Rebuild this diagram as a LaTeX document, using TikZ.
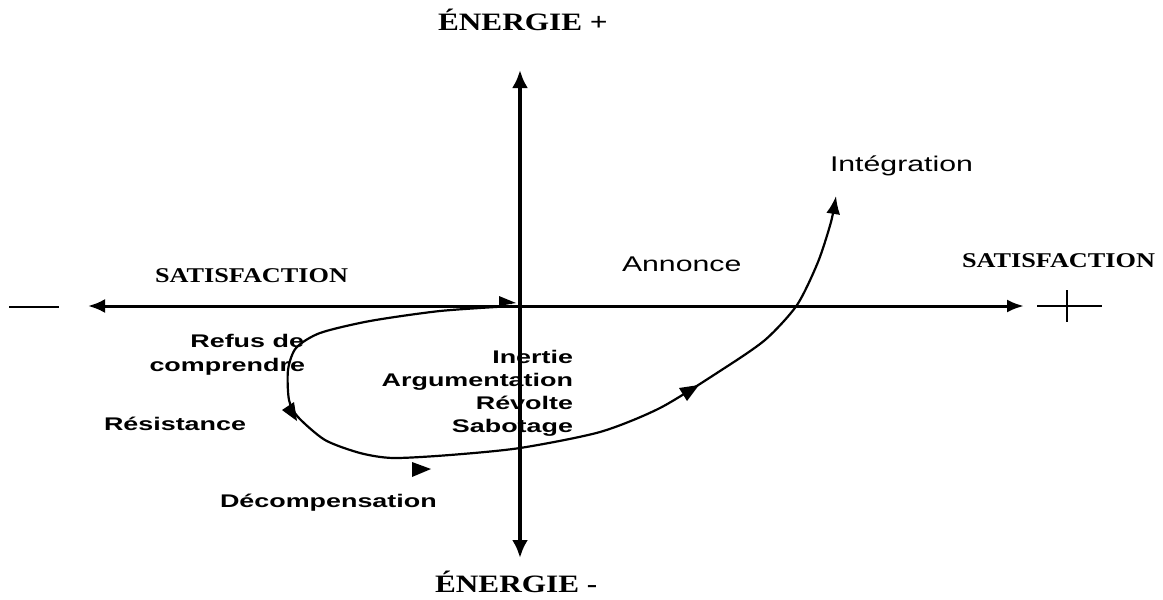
\documentclass[tikz,border=0pt]{standalone}
\usepackage{fontspec}
\setmainfont{Liberation Serif}
\newfontfamily\axisfont{Liberation Serif}[FakeStretch=1.25]
\newfontfamily\boldsans{Liberation Sans}[FakeStretch=1.47]
\newfontfamily\plainsans{Liberation Sans}[FakeStretch=1.42]
\usetikzlibrary{arrows.meta}
\begin{document}
\begin{tikzpicture}[x=1pt,y=-1pt,
  txt/.style={inner sep=0pt, outer sep=0pt, text=black},
  energie/.style={txt, font=\axisfont\bfseries\fontsize{25}{28}\selectfont},
  satis/.style={txt, font=\axisfont\bfseries\fontsize{21}{24}\selectfont},
  phase/.style={txt, font=\boldsans\bfseries\fontsize{18.3}{22}\selectfont},
  stage/.style={txt, font=\plainsans\fontsize{21.3}{24}\selectfont},
  axisline/.style={line width=3.5pt},
  thinline/.style={line width=2pt},
  curveline/.style={line width=2.2pt}
]
\useasboundingbox (0,0) rectangle (1163,600);

% axes
\coordinate (O) at (520,306);
\coordinate (xl) at (88,306);
\coordinate (xr) at (1024,306);
\coordinate (yt) at (520,70);
\coordinate (yb) at (520,558);
\draw[axisline, line width=3pt, {Latex[length=17pt,width=14pt]}-{Latex[length=17pt,width=13pt]}] (xl) -- (xr);
\draw[axisline, line width=4pt, {Latex[length=18pt,width=16pt]}-{Latex[length=18pt,width=16pt]}] (yb) -- (yt);

% minus and plus signs
\coordinate (m1) at (9,307);
\coordinate (m2) at (59,307);
\draw[thinline] (m1) -- (m2);
\coordinate (p1) at (1037,306);
\coordinate (p2) at (1102,306);
\coordinate (p3) at (1067,290);
\coordinate (p4) at (1067,322);
\draw[thinline] (p1) -- (p2);
\draw[thinline] (p3) -- (p4);

% axis labels
\node[energie, anchor=base west] (eplus) at (438,30) {ÉNERGIE +};
\node[energie, anchor=base west] (eminus) at (435,592) {ÉNERGIE -};
\node[satis, anchor=base west] (satl) at (155,282) {SATISFACTION};
\node[satis, anchor=base west] (satr) at (962,267) {SATISFACTION};

% stage labels
\node[stage, anchor=base west] (annonce) at (622,271) {Annonce};
\node[stage, anchor=base west] (integ) at (830,171) {Intégration};
\node[phase, anchor=base east] (refus1) at (304,347) {Refus de};
\node[phase, anchor=base east] (refus2) at (305,371) {comprendre};
\node[phase, anchor=base west] (resist) at (104,430) {Résistance};
\node[phase, anchor=base west] (decomp) at (220,507) {Décompensation};
\node[phase, anchor=base east] (inertie) at (573,363) {Inertie};
\node[phase, anchor=base east] (argu) at (573,386) {Argumentation};
\node[phase, anchor=base east] (revolte) at (573,409) {Révolte};
\node[phase, anchor=base east] (sabot) at (573,432) {Sabotage};

% change curve
\draw[curveline, -{Latex[length=18pt,width=14pt]}]
  plot[smooth, tension=0.45] coordinates {
    (512,306) (440,311) (370,321) (320,333) (296,348) (288,370)
    (289,400) (298,417) (325,440) (360,453) (393,458) (450,455) (520,448)
    (600,432) (660,408) (720,371) (765,340) (797,305) (818,262)
    (831,222) (836,196)};

% arrowheads along the curve
\coordinate (a1) at (282,410);
\coordinate (a2) at (297,421);
\coordinate (a3) at (294,402);
\fill (a1) -- (a2) -- (a3) -- cycle;
\coordinate (b1) at (687,401);
\coordinate (b2) at (699,385);
\coordinate (b3) at (679,388);
\fill (b1) -- (b2) -- (b3) -- cycle;

% start marker at the origin
\coordinate (s1) at (499,296);
\coordinate (s2) at (516,303);
\coordinate (s3) at (499,306);
\fill (s1) -- (s2) -- (s3) -- cycle;

% detached arrowhead under the curve
\coordinate (d1) at (412,462);
\coordinate (d2) at (431,469);
\coordinate (d3) at (412,477);
\fill (d1) -- (d2) -- (d3) -- cycle;
\end{tikzpicture}
\end{document}
